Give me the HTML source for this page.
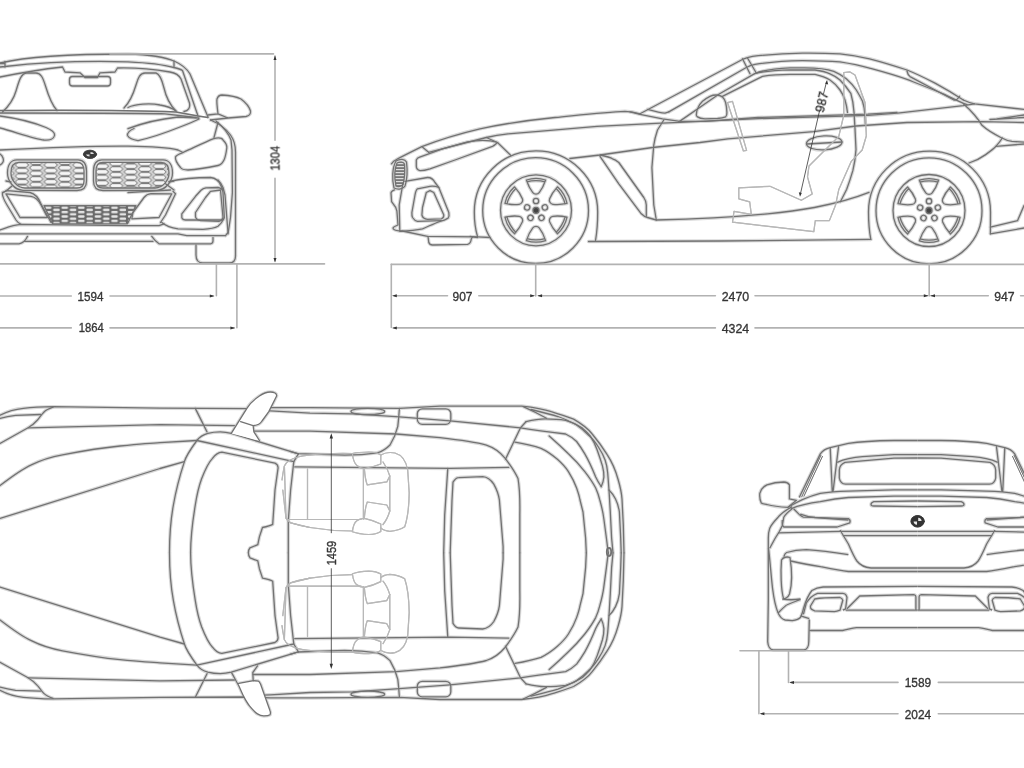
<!DOCTYPE html>
<html><head><meta charset="utf-8"><title>BMW Z4 dimensions</title>
<style>
html,body{margin:0;padding:0;background:#fff;width:1024px;height:768px;overflow:hidden;}
svg{display:block;font-family:"Liberation Sans",sans-serif;}
</style></head><body>
<svg width="1024" height="768" viewBox="0 0 1024 768">
<defs>
<pattern id="hex1" width="28.8" height="5.6" patternUnits="userSpaceOnUse" x="14.7" y="162.2">
<rect width="28.8" height="5.6" fill="#d4d4d4"/>
<g fill="#f6f6f6" stroke="#555" stroke-width="0.8">
<path d="M0.6,2.8 L2.9,0.6 L11.5,0.6 L13.8,2.8 L11.5,5 L2.9,5 Z"/>
<path d="M15,0 L17.3,-2.2 L25.9,-2.2 L28.2,0 L25.9,2.2 L17.3,2.2 Z"/>
<path d="M15,5.6 L17.3,3.4 L25.9,3.4 L28.2,5.6 L25.9,7.8 L17.3,7.8 Z"/>
</g>
</pattern>
<pattern id="hex1b" width="28.8" height="5.6" patternUnits="userSpaceOnUse" x="94.7" y="163.45">
<rect width="28.8" height="5.6" fill="#d4d4d4"/>
<g fill="#f6f6f6" stroke="#555" stroke-width="0.8">
<path d="M0.6,2.8 L2.9,0.6 L11.5,0.6 L13.8,2.8 L11.5,5 L2.9,5 Z"/>
<path d="M15,0 L17.3,-2.2 L25.9,-2.2 L28.2,0 L25.9,2.2 L17.3,2.2 Z"/>
<path d="M15,5.6 L17.3,3.4 L25.9,3.4 L28.2,5.6 L25.9,7.8 L17.3,7.8 Z"/>
</g>
</pattern>
<pattern id="hex2" width="16.6" height="4.4" patternUnits="userSpaceOnUse" x="44" y="205.6">
<rect width="16.6" height="4.4" fill="#6a6a6a"/>
<rect x="0.9" y="0.9" width="6.5" height="2.5" rx="1.1" fill="#e4e4e4"/>
<rect x="9.2" y="3.1" width="6.5" height="2.5" rx="1.1" fill="#e4e4e4"/>
<rect x="9.2" y="-1.3" width="6.5" height="2.5" rx="1.1" fill="#e4e4e4"/>
</pattern>
<pattern id="vstripe" width="4" height="3" patternUnits="userSpaceOnUse">
<rect width="4" height="3" fill="#777"/>
<rect y="1" width="4" height="1.2" fill="#ddd"/>
</pattern>
</defs>
<rect width="1024" height="768" fill="#fff"/>
<g fill="none" stroke-linejoin="round" stroke-linecap="round">
<use href="#art" stroke="#d8d8d8" stroke-width="3.5"/>
<g stroke="#727272" stroke-width="1.3"><g id="art">
<!-- FRONT VIEW -->
<g id="front">
<!-- roof -->
<path d="M0,63 C25,57 70,54 128,54 C150,54.5 166,57.5 175,61.5 C183,65 187,69 190,74 L208,117"/>
<path d="M5,66.5 C40,62.5 90,60.8 128,61.8 C150,62.8 165,65 174,67.5 C178,68.5 181,69.5 182.5,70.5 L198,116"/>
<path d="M5,61.5 L5,67 M174,61 L174,67.5 M0,63.5 L5,63.5 M0,67 L5,66.5"/>
<!-- windshield top frame -->
<path d="M0,77 C20,73 45,69 62.5,67 L65,72 L80,72.8 L85,77.5 L97.5,77.5 L100,72.8 L115,72 L117.5,68 C135,67.5 155,69.5 170,72 C176,73 179,75 181,79 L189.5,103 C190.5,108 188,111 184,111.5"/>
<!-- inner mirror -->
<rect x="69.5" y="76.5" width="41" height="9.5" rx="3"/>
<!-- headrests -->
<path d="M2.5,112 C10,105 14,98 16,91 C19,81 21,73 27,73 L36,73 C41,73 43,78 45.5,86 C48.5,96 52,105 57,110.5"/>
<path d="M124,108 C128,104 133,95 136,85 C138,78 140,73 145,73 L156,73 C160,74 162,80 164,88 C166,97 170,105 176,111"/>
<path d="M128,107.5 C135,104 150,103 160,105 C167,106 172,108 176,111"/>
<!-- beltline -->
<path d="M0,110.5 C60,110 140,110.5 176,112 L198,116 L208,117.5" stroke-width="1.4"/>
<path d="M0,113 C60,113 140,113 165,113.8 L196,117.5"/>
<!-- side mirror -->
<path d="M208,115 L218,113.8 C217,106 216.5,101 217,99 C218,96 220,95 222,95 C230,95.5 237,97 241,99 C245,102 249,106 250.5,111 C251,114 249,116 246,116.5 L228,118 L210.5,120 M218,113.8 L228,118"/>
<!-- teardrops -->
<path d="M0,116 C15,118 35,123 46,127.5 C52,130 55,133 54.5,135.5 C54,138.5 50,140.5 44,140 C35,139 15,132 0,128"/>
<path d="M128,128.7 C140,124 160,119 178,117 L199,118 M138,140.6 C134,140 129,138 127.5,135.5 C127,133 130,130 134,128.5 M138,140.6 C150,138 170,131 180,127 C188,124 195,121 199,119"/>
<!-- hood/bumper top line -->
<path d="M0,150 C40,148 100,146 128,146.2 C150,146.5 170,148 178,150 L183,152.5"/>
<!-- fender -->
<path d="M210.5,120 C220,124 227,130 230.5,135 C234,140 235.5,146 235.5,152 L235.5,256"/>
<path d="M216,121 C222,126 228,132 231,140 L232,150 L232.4,192.5 L230.5,217.5 L228,233.8"/>
<path d="M214,137.5 L218,122.5"/>
<path d="M0,154 C3,156 4,160 3,162 C2,164 0,165 0,165"/>
<!-- headlight -->
<path d="M183,152.5 C195,147 205,142 213,138.8 C218,137.5 222,138 223,140 C226,143 227,146 226.8,148 C226,154 225,158 224,160 C222.5,163 220.5,165 218,165.5 C208,167.5 195,169.5 188,170 C184,170 181.5,169 180.5,167.5 C177.5,164 175,160 175.5,157 C176,155 179,154 183,152.5"/>
<!-- BMW logo -->
<ellipse cx="90" cy="154.3" rx="6.6" ry="4.1" fill="#3a3a3a" stroke="#444" stroke-width="0.6"/>
<path d="M90.5,152 A3.6,2.3 0 0 1 94,154 L90.5,154 Z M89.5,156.6 A3.6,2.3 0 0 1 86,154.6 L89.5,154.6 Z" fill="#ddd" stroke="none"/>
<!-- kidney grilles -->
<path id="kidL" d="M17,159.8 L78,159.8 C84,159.8 86.5,164 86.5,171 L86.5,181 C86.5,187.5 83,190.5 77,190.5 L23,190.3 C14,190 7.5,181 7.5,173 C7.5,165 11,159.8 17,159.8 Z"/>
<path d="M19,162.3 L77,162.3 C82,162.3 84,165 84,171 L84,181 C84,186 81.5,188 77,188 L25,188 C17,188 11,180 11,173 C11,166 14,162.3 19,162.3 Z" fill="url(#hex1)"/>
<path d="M163,159.8 L102,159.8 C96,159.8 93.5,164 93.5,171 L93.5,181 C93.5,187.5 97,190.5 103,190.5 L157,190.3 C166,190 172.5,181 172.5,173 C172.5,165 169,159.8 163,159.8 Z"/>
<path d="M161,162.3 L103,162.3 C98,162.3 96,165 96,171 L96,181 C96,186 98.5,188 103,188 L155,188 C163,188 169,180 169,173 C169,166 166,162.3 161,162.3 Z" fill="url(#hex1b)"/>
<!-- grille bottom lines -->
<path d="M6,181 L11,182 M169,182 L174,181"/>
<path d="M12,186 C8,190 4,192 2.5,193"/>
<path d="M128,192.5 L148,191.3 L170.5,190 M165.5,183.8 L174,190"/>
<!-- left intake -->
<path d="M2.5,192.5 L7.5,190.6 L30,192.5 C36,194 39,199 41,203.8 L51,222.5 M2.5,192.5 C2,195 4,200 7,205 L16,220 C18,223 20,224 21,224.4"/>
<path d="M6,193.8 L31,196.3 C36,197 39,201 41,205 L47.5,217.5 L20,217.5 Z"/>
<!-- right intake (center-right) -->
<path d="M173,191.3 L175.5,193.8 L165.5,215 L160.5,222.5"/>
<path d="M171.8,193.8 L159,217.5 L131.8,218.8 L133,212.5 L144,197.5 C146,195 148,194 151,193.7 Z"/>
<!-- lower grille -->
<path d="M44,205.6 L136,205.6 L127.5,223.8 L52.5,223.8 Z" fill="url(#hex2)"/>
<!-- bumper middle line -->
<path d="M0,230 C6,228 12,225 21,224.4 L128,225.6 L159,225.6 L164,223.8"/>
<path d="M161.8,222.5 C166,226 172,228 178,228.8 L203,229.4 C210,229 215,228 218,226.3 C220,224.5 222,222.5 223,220"/>
<!-- right fog intake -->
<path d="M181.8,213.8 L195.5,196.3 L201,190.2 C202.5,188.8 204,188 206,187.8 L218,187.5 C221,188 223,190 223,192.5 L224.3,217.5 C224,219 223,220 221.8,220 L185.5,220 C182.5,220 181.5,218 181.8,216.3 Z"/>
<path d="M195.5,212.5 L205.5,197.5 L210.5,191.3 L220.5,190 L223,217.5 C222,220 221,221 219,221.3 L200.5,220.6 C197,220 195.5,218 195.5,216.3 Z"/>
<!-- bumper right outline -->
<path d="M169,181.3 C180,179 200,177.5 210.5,177.5 C215,178 219,181 220.5,185 L223,190"/>
<path d="M218,180 C221,183 223,187.5 223,187.5 L225,195 L226.8,217.5 L228,232.5 L225.5,235.6"/>
<!-- bumper bottom -->
<path d="M0,233.8 L178,233.8 L186.8,235.6 L225.5,235.6"/>
<path d="M0,243.8 L19,243.8 C23,243 26,240 27.5,236.3 M25,241.3 L153,241.3 M151.8,236.3 C153,238 155,241 159,243.8 L210.5,243.8 C212.5,243.5 213,242 213,241 L213,237.5"/>
<!-- tire -->
<path d="M196,245 L196,255 C196,261 199,263 203,263 L229,263 C233,263 235.5,261 235.5,256"/>
</g>

<!-- SIDE VIEW -->
<g id="side">
<path d="M391.5,163.8 C393,161.5 394.5,160.3 396,159.8 C400,157.5 403,156 406.8,154.1 L421.8,146.6 C440,139.5 460,133.5 480,128.8 C510,122.5 540,119 555,117.5 C580,115 605,112 625,111.3 C632,111.5 636,112.5 640,113.8"/>
<path d="M428.6,152.3 L486.3,137.5 C495,135.5 502,134.5 508,133.8 L538.6,131.3 L597,126.4 L655.8,123.4 L680,122.3 L758,118.6 L868,115.4 L897.6,113.2 L963.3,105.6 L974.5,103.8"/>
<path d="M705,121.3 L758,117.5 L868,114.2 L897,112.4"/>
<path d="M421.8,146.6 L428.6,152.3"/>
<path d="M416.3,160 C417,158.5 418,157.5 419,157.3 L442.5,148.8 L467.5,141.9 C480,139.5 490,140 497.5,142.5 C496,144 494.5,145.5 492.5,146.3 L455,160 L430,168.8 C426,170 423,170.8 420,170.6 C417.5,170 416.3,168 416.3,166 Z"/>
<path d="M486.3,137.5 L497.5,142.5 L510.6,155.2"/>
<path d="M477.5,236.5 C475,228 474.3,220 474.3,212 C474.3,178 501.8,150.9 536,150.9 C570,150.9 597.7,178 597.7,212 C597.7,222 597,232 595.5,240.6"/>
<circle cx="535.6" cy="210.6" r="52.9"/>
<circle cx="536" cy="210.3" r="35.5"/>
<g id="spokes" transform="translate(536,210.3)">
<path id="win" d="M-9.6,-30.3 C-8.2,-26 -5.5,-20.5 -3.2,-17.6 C-1.6,-15.6 1.6,-15.6 3.2,-17.6 C5.5,-20.5 8.2,-26 9.6,-30.3 C4,-32.1 -4,-32.1 -9.6,-30.3 Z M-8.9,-28.4 C-4,-30 4,-30 8.9,-28.4"/>
<use href="#win" transform="rotate(60)"/><use href="#win" transform="rotate(120)"/><use href="#win" transform="rotate(180)"/><use href="#win" transform="rotate(240)"/><use href="#win" transform="rotate(300)"/>
<circle r="3" fill="#444"/>
<circle id="lug" cx="0" cy="-9.3" r="2.7"/>
<use href="#lug" transform="rotate(72)"/><use href="#lug" transform="rotate(144)"/><use href="#lug" transform="rotate(216)"/><use href="#lug" transform="rotate(288)"/>
</g>
<path d="M569.9,158.5 L600,155 L652.5,147.5 L700,142.5 L728,138.8 L813.8,131.6 L856,126 L907,122.5 L982,121.6 L1024,122.5"/>
<path d="M394.5,189.8 C392.5,190.5 391,191.5 391,193 L391.6,201.6 L395.7,207.4 L396.9,211 L398,225 C396,226 393.5,226.5 393,228 C393,229.5 395,230.5 399.2,230.9 L402.5,231 L427.5,236.3 L477.5,236.9 L490,237.5"/>
<path d="M396,161 C400,158.5 405,159 406.5,162 C407.5,170 407,180 405,186 C403.5,189 398,190 394,188 C392,180 392,168 396,161 Z"/>
<path d="M397,163 C400,161.5 403.5,162 404.5,164 C405,171 404.5,179 403,184.5 C401.5,186.5 398,187 396,186 C394.5,179 394.5,169 397,163 Z" fill="url(#vstripe)"/>
<path d="M402.8,184 L399.2,205 L399.8,230.9"/>
<path d="M405,181.3 L427.5,177.5 C430.5,177.4 433,178.8 435,182.5 L438.8,187.5 L448.8,212.5 C449.3,215 449,217 448.1,218.1 C445.5,219.8 443,220.7 440,221.3 C434,223.5 428,226.5 422.5,228.8 C415,230.5 407,231 400,231.3"/>
<path d="M438.8,187.5 C436,186.3 433,186 430,186.3 L417.5,188.8 C416,190 415.5,192 415,195 L411.9,212.5 C411.8,215 412,216.5 412.5,217.5 C414,219.8 415.5,221 417.5,221.3 L441.3,220.6"/>
<path d="M426.3,192.5 L430,190.6 L433.8,192.5 L443.8,215 C443.8,217 442.5,218.5 441.3,218.8 L427.5,219.4 C424.5,219 422.5,217.5 421.9,215 L422.5,207.5 Z"/>
<path d="M428,236.3 L428.8,242.5 C429.5,244.5 431,245 432.5,245 L467.5,244.4 C469.5,244 471,242 471.3,238.8 L472.5,237"/>
<path d="M600,155 C605,156 610,157 612.5,158.8 C615,159.5 617,161 618.8,162.5 L643.8,197.5 C645.5,200 646.3,203 646.3,205 L646.3,216.3"/>
<path d="M600,156.3 L618.8,183.8 L641.3,213.8 C643,215.5 645,217 647.5,217.5 L656.3,220 C700,219 740,216.5 767.5,213.8 C790,211.5 800,210 814.4,207.5 C835,203.5 855,198 869,192.4"/>
<path d="M663.8,120 L657.5,130 C655.5,136 654.3,141 653.8,145 L651.9,167.5 L653.8,205 L656.3,220"/>
<path d="M588.5,241.5 L720,241 L870.8,239.4"/>
<path d="M470,236.4 L477.5,237.5"/>
<path d="M870.8,239.4 C869,230 868.5,220 868.5,212 C868.5,178 895.8,151.2 929.5,151.2 C963.2,151.2 990.5,178 990.5,212 C990.5,220 990.4,228 990.4,233.8"/>
<circle cx="929" cy="210.8" r="53"/>
<circle cx="929" cy="210.5" r="36"/>
<g transform="translate(929,210.5)">
<use href="#win"/><use href="#win" transform="rotate(60)"/><use href="#win" transform="rotate(120)"/><use href="#win" transform="rotate(180)"/><use href="#win" transform="rotate(240)"/><use href="#win" transform="rotate(300)"/>
<circle r="3" fill="#444"/>
<use href="#lug"/><use href="#lug" transform="rotate(72)"/><use href="#lug" transform="rotate(144)"/><use href="#lug" transform="rotate(216)"/><use href="#lug" transform="rotate(288)"/>
</g>
<path d="M990.4,227.2 L1017.6,220.6 L1024,205.6"/>
<path d="M990.4,233.8 L1024,228"/>
<path d="M969,163 C975,161 981,158 985.7,154.6 C990,151.5 993.5,149 996,146.3 C998.5,143.5 1000.5,141 1002.3,138"/>
<path d="M996,146.3 L1024,144"/>
<path d="M963.3,103.8 C967,107 971,111 974.5,115 C977.5,118.5 980,122 982,125.3 C987,130 994,134 1000.8,137.5 C1005,139.8 1009,141 1012,141.3 L1024,142.2"/>
<path d="M997,118.8 L1024,115 M990,119.5 L1024,117.5"/>
<path d="M963.3,100 C967,101.8 971,103 974.5,103.8 L1024,109.4"/>
<!-- roof and windshield -->
<path d="M640,113.8 L743.8,58.8 C746,57.8 749,57 752.5,56.3 C770,54.3 785,53.3 802.5,53.1 C815,53 828,53.2 840,53.8 C850,54.8 860,56.5 869.5,58.8 C882,62 895,66 907,70 C917,74 926,78.5 935,83.1 C945,88.5 955,94.5 963.3,100"/>
<path d="M668.8,111.9 L746.3,67.5 C749,66 752,65 755,64.4 C770,62 787,60.8 802.5,60.6 C815,60.7 828,61 840,61.9 C850,63.5 860,65.5 869.5,68.1 C882,71.5 895,75 907,79.4 C920,84.5 933,89.5 944.5,94.4 C953,98.5 960,102 967,104.7"/>
<path d="M742.5,58.8 L750,73.8 M747.5,58 L756,72.5"/>
<path d="M647.5,109.4 C655,111.5 661,113 665,113.1 L668.8,111.9"/>
<path d="M678.8,121.9 L718.8,94.3 L754.7,73.6 C765,71 778,70 790,69.8 L815,70 C821,70.8 826,72 830,73.8 C834,75.5 837.5,77.5 840,80 C844,84 847.5,88.5 850.8,93.3 C852.5,99 853.5,105 854,112 L855,128.8 L856,149.6 C855.5,157 854.5,164 852.9,170.4 C851,177 849,183 846.7,189.2 L840.4,201.7"/>
<path d="M721.9,96.6 L762.5,76.3 C772,74.8 782,74.4 790,74.4 L815,74.4 C821,75.8 826,77.5 830,80 C834.5,83 837.5,86.5 840,90 C842.5,93.5 844,97 845,100 C846.2,104 847,108 847.5,112.5"/>
<path d="M907,71 C907.5,73.5 908.5,75.5 910,76.6 L953.9,100 C956,100.5 958,99 959.5,96.3"/>
<path d="M754.7,73.6 C762,70.5 775,68.5 790,67.8 L802.5,67.8 C815,67.7 826,68.5 833.8,71.3 C839,73.5 843,76 846.3,78.8 C850.5,82.5 853.8,86 856.3,90 C859,94.5 861,98 862.5,101.3 C864,106 864.8,111 865,115 L865.4,124"/>
<path d="M630,111.9 L640,114.4 L662.5,118.8 L680,121.3 L705,121.3"/>
<path d="M696.3,115 C696.5,112 697,109.5 698.1,107.5 C699.5,104.5 701,102.8 702.5,101.3 C705,99 707.5,97.5 710,96.3 C712,95.4 714,95 716.3,95 C718.5,95 720.8,95.7 722.5,96.9 C724,98.3 725,100.3 725.6,102.5 C726.4,105.5 726.8,109 726.9,112.5 C727,114.5 726.5,116 725.6,116.9 C723,118 720,118.3 717.5,118.5 L705,118.8 C701,118.6 698.8,117.8 697.5,116.9 C696.8,116.4 696.4,115.8 696.3,115 Z"/>
<!-- door handle -->
<ellipse cx="824.2" cy="142.9" rx="17.8" ry="7" transform="rotate(-3 824.2 142.9)"/>
<path d="M807,144 L842,142"/>
<!-- rear fender/arch top lines -->
<!-- interior grey -->
<g stroke="#b8b8b8" stroke-width="1.2">
<path d="M727.5,102.5 L732.5,101.3 L746.6,150.3 L743.4,151 Z"/>
<path d="M738.8,187.8 L770,186.3 L801.3,200.3 L812.2,194 L807.5,176.9 L809,166 L826.3,148.8 L838.8,136.3 L843.8,115 L843.8,72.5 L850,71.9 L855,75 L865,102.5 L866.3,136 L862.2,150 L851.3,161.3 L838.8,189.4 L835.6,205 L829.4,220.6 L815.3,220.6 L813.8,231.6 L732.5,222.2 L734,211.3 L751.3,214.4 L749.7,201.9 L738.8,198.8 Z"/>
</g>
</g>

<!-- TOP VIEW -->
<g id="tophalf">
<path d="M0,415.3 C8,411 16,409 23.4,408.3 C35,407 45,406.8 53.1,406.7 L160,408.2 L246.9,408.6 L270.3,407.7 L310,407.7 L399.4,408.3 L440,406.1 L521.6,406.1 C535,407.5 545,409.5 551.3,411.7 C560,414.5 567,416.5 573.6,419.1 C582,424 588,428.5 592.2,434 C598,441 603,448 607,454.4 C612,462 615.5,470 618.1,479.5 C620,486 621.5,492 622,499 L623.3,525 L624,552.8"/>
<path d="M0,418.4 C5,417 10,416 15.6,415.3 L40.6,414.5"/>
<path d="M250,410 L270.3,410.8 L310,413.1 L352.5,413.8 L399.4,416.9 L450,420.8 L520.5,427.8 C535,430 550,432 565.6,434 C570,436 573.5,438.5 576.6,441.5 C580,446 582.5,450 584.8,453.8 C589,461 592.5,469 595.7,477 C597.5,481 599.5,484 601.2,486.6"/>
<path d="M53.1,407.2 C48,409 45.5,410.5 43.8,412.2 C41,415 39.5,418 37.5,420 C34,424 31,426 28.1,427.8 L0,443.4"/>
<path d="M28.1,427.8 L160,424.7 L234.4,425.6"/>
<path d="M0,485.6 C10,478 22,469 31.3,464.9 C40,460.5 50,457 62.5,454.8 C80,451.5 100,448 120,446 C140,444.2 150,443.3 160,442.7 L196.9,440.5"/>
<path d="M0,518.5 L160,468.5 L184.4,461.6"/>
<path d="M195.3,408.4 L207,431.9"/>
<path d="M196.9,440.5 C200,436.5 204,434.5 207.8,433.4 C212,432.3 216,431.9 220.3,431.9 C225,432 228,432.6 231.3,433.4 L298.4,453.8"/>
<path d="M196.9,440.5 L293.8,461.6"/>
<path d="M196.9,440.5 C190,450 186,456 184.4,461.6 C180,475 176,490 173.4,505 C171,518 169.5,530 169.5,552.8"/>
<path d="M190.6,552.8 C190.6,540 192,525 195.3,505 C197,494 199,486 201.6,478.8 C205,470 208,463 212.5,458.4 C215,455 218,452.5 221.9,452.2 L275,463.1 C277,464 278,465.5 278.1,467.8 L275,490 L272.7,524.4 C270,526 265,527 262.5,527.5 L259.4,536.9 L257.8,544.7 L250,547.8 C248.5,549.5 248.4,551 248.4,552.8"/>
<path d="M298.4,453.8 L293.8,461.6 L290.6,490 L288.3,521 L288.3,552.8"/>
<path d="M253.1,431.1 L310,431.1 L396.3,434 L440,437.7 C460,440 475,442 486.4,445.1 C495,448 500,452 505,458.1 C511,466 515,472 518,478.5 C520,490 520,505 519.8,515 L519.8,552.8"/>
<path d="M399.4,408.3 C399,415 398.5,421 397.8,426.3 C396,434 393,440 390,445 C386,449 382,451.5 377.5,452.8 C365,454.5 355,455 344.7,455.2 L297.8,453.6 L290,451.3"/>
<path d="M294.7,466.9 L450,468.4 L508.7,467.4"/>
<path d="M447.8,468.4 L444.7,515 L443.7,552.8"/>
<path d="M450.2,552.8 L452,500 L453,482.2 C455,479 457,477.6 458.6,477.6 L482.7,476.6 C488,477 491,480 493.8,484.1 C497,490 499,497 499.4,500 L503.1,546.4 L503.1,552.8"/>
<path d="M526,421.7 L520.5,427.8 L505.5,459.3"/>
<path d="M523.2,406.6 C531,410 539,414 546.5,418.2"/>
<path d="M526,421.7 C535,419.5 540,418.9 545.1,418.9 C552,419 560,419.5 565.6,420.3 C572,422 578,425 582,427.8 C585,430.5 588,433 590.2,436 C593,440 595.5,445 597.1,449.7 C599,455 601,461 602.5,466.1 C603.5,470 604,474 603.9,477 C603.5,481 602.5,484 601.2,486.6"/>
<path d="M515,442.2 C525,444 534,446 541,448.3 C547,451 552.5,455 557.4,459.3 C561.5,463 565.5,467 568.4,471.6 C571.5,476.5 574.5,482 576.6,488 C578,492 579.3,496 580,500 L583,512 L585.6,538 L586.3,552.8"/>
<path d="M549.2,436 C556,442 562,447.5 568.4,453.8 C574,459 579.5,465 584.8,471.6 C589,477 592.8,482.5 595.7,488 C597.5,492 598.8,496 599.8,500 C601.5,506 603,512 603.8,518.5 L606.4,538 L607.7,548.5 L608.4,552.8"/>
<path d="M531,409.5 C541,412 551,414.5 558,416.5 C565,419 571,422 576.6,425 C581,428 585,431.5 588.9,435.5 C592,438 595.5,442.5 598.4,447 C601,451 603.5,455.5 605.1,460 C606.5,464 607.3,468 607.7,473 L609,490 L610.3,512 L611.6,538 L613,552.8"/>
<path d="M609,490 C611.5,492.5 613.8,495.5 615.5,499 C617.5,503 618.8,507.5 619.4,512 L620.7,538 L621.2,552.8"/>
<ellipse cx="367.8" cy="411.4" rx="16.8" ry="3.1"/>
<rect x="417.3" y="408.8" width="33.5" height="15.5" rx="5"/>
<!-- seat (grey) -->
<g stroke="#b8b8b8" stroke-width="1.2">
<path d="M352.4,453.5 C335,453 310,454 298,457 C290,459 286,462 284.4,466 L286,518 C287,520.5 288.5,522 290.6,522.8 C297,525 304,526.5 310,527.5 C325,530 340,531 352,531"/>
<path d="M307.5,469 L307.5,519 M288,519.5 L361,519.5"/>
<path d="M352.4,453.5 C353,459 355,464 356.9,465.4 C359,467.5 361.5,468.4 364.3,468.4 C370,467.5 376,466 380.8,464 L380.8,455 C377,452.5 372,452 368.8,452 C362,452 357,452.3 352.4,453.5 Z"/>
<path d="M352.4,531.8 C353,526.5 355,522 356.9,520.8 C359,519 361.5,518.3 364.3,518.3 C370,519.5 376,521.5 380.8,524 L380.8,531.5 C377,534 372,534.5 368.8,534.5 C362,534.3 357,533.5 352.4,531.8 Z"/>
<path d="M380.8,455 C385,452.5 390,452 395,453 C402,455 406,460 407.7,470 L409.2,493 C409,508 407,520 404.7,526.8 C400,530 394,531 389.8,531.3 C386,531 383,530 380.8,528"/>
<path d="M364.3,468.4 C365,477 366,482 367.3,484.9 L386.8,481.9 L389.8,476 C388,470 386,466 383,462"/>
<path d="M364.3,518.3 C365,510 366,505 367.3,502 L386.8,505 L389.8,511 C388,517 386,521 383,524.5"/>
<path d="M389.8,476 L389.8,511"/>
<path d="M363.4,469 L363.4,519"/>
<path d="M282.8,490 L286,518 L290.6,522.8 L310,527.5 M282,480 C283,472 284,468 284.4,466"/>
</g>
</g>
<use href="#tophalf" transform="translate(0,1105.6) scale(1,-1)"/>
<path fill="#fff" d="M231.3,433.4 L246.9,408.4 C250,403 255,399 259.4,396 C263,393.5 267,392 270.3,392 C274,392 277,393.5 276.6,396 L268.8,411.6 L262,421 C260,424 257,425.5 253.1,425.6 L253.9,431.9 L259.4,440.5 M240.6,421.7 L253.1,425.6"/>
<path fill="#fff" d="M231.7,672.9 L238.8,685.8 L243.4,695.9 C245.5,700 247.5,703.5 249.7,706.1 C252.5,709.5 255,712.5 257.5,713.9 C259.5,715.2 261.5,715.9 263.8,715.9 C266.5,715.8 268.8,715.5 270,714.7 C270.6,713.5 270.5,712 270,710.8 L265.3,697.5 L260.6,684.2 C259.8,682.5 259,681.3 258.3,681.1 L253.6,680.7 L238.8,683.4"/>
<path d="M253.2,680.7 L252.8,672.5 L257.5,665.9"/>

<!-- trunk logo -->
<ellipse cx="609" cy="552" rx="2.2" ry="4" stroke-width="1.8"/>


<!-- REAR VIEW -->
<g id="rearhalf" stroke-linecap="butt">
<path d="M799.2,497.5 L820.3,453.9 C823,450 826,448.5 830.2,447.6 L848.4,443.4 C860,441.5 875,440.7 894,440.5 L917.5,440.5"/>
<path d="M801.6,497.2 L821,455 M803.8,496.5 L822.6,456" stroke-width="1"/>
<path d="M830.2,447.6 L832.3,491.9 M838.6,446.2 L833,491.9"/>
<path d="M917.5,458 L894,458.1 L845,462.3 C841,464 839.5,467 839.3,470 L839.3,478 C840,482 842,484 845.6,484.1 L917.5,484.1"/>
<path d="M837.2,462.3 C845,459 852,457.5 862.5,456.7 L894,454.6 L917.5,454.6"/>
<path d="M788,507.3 C798,501 808,496.5 820.3,493.3 C830,492 840,491.5 848.4,491.2 L894,489.8 L917.5,489.8"/>
<path d="M790.8,508.8 C800,505 810,503 820.3,501.7 C830,499.5 840,498 848.4,497.5 L894,496.1 L917.5,496.1"/>
<path d="M917.5,501 L873.8,501.7 C871.5,502.5 871,503.5 871,504.5 C871,505.5 872,506 873.8,506 L917.5,506.6"/>
<path d="M761.3,503.1 C759.5,499 759.5,496 759.8,493.3 C761,489 763.5,486.5 766.9,484.8 C772,483 778,482 783.8,482 C786.5,482.2 788.5,483.3 789.4,484.8 L789.4,498.9 L796.4,500.3 L788,507.3 C780,507 772,506 766.9,504.5 C764,504 762,503.7 761.3,503.1 Z"/>
<path d="M792.2,506.6 C786,510 781,513.5 778.1,517.2 C774,521.5 771,525 769.7,528.4 C768.5,532 768.3,535 768.3,538 L768.3,600 L767.7,641.6 C768,646 770,649.9 773.3,649.9 L803.8,649.9 C807,649.9 808.8,646 808.8,641.6 L809.3,619.4"/>
<path d="M792.2,508.8 C788,512 785,515 783.8,517.2 L782.3,525.6 L779.5,531.3 L775.3,538 L769.7,548.3"/>
<path d="M800.2,514.1 C805,516 810,517 815,517.5 L848.4,520"/>
<path d="M793.6,508.8 L799.2,514.4 C801,516 802,517 803.4,517.2 L848.4,518.6 C850,519.5 850.5,521 849.8,522.8 L837.2,527 L783.8,527 C782.5,526 782,523 782.3,520"/>
<path d="M778.1,532.8 L840,531.4 L917.5,531.4 M842.8,535.6 L917.5,535.6"/>
<path d="M840,530 C843,535 846,540 848.4,544 C851,550 854,557 856.9,561 C860,565 865,567.5 871,568 L917.5,568"/>
<path d="M790.8,561 C800,563 810,565 820.3,566.6 C830,568.5 840,570.5 848.4,571.5 L917.5,571.5"/>
<path d="M783.8,556.7 C784.5,554.5 785.5,553 786.6,552.5 C793,550.5 800,549.7 806.3,549.7 C820,550.5 835,552.5 848.4,554.6"/>
<path d="M781.5,560 C783,557 787,556.5 790,557.5 C792,570 792,585 789.5,594 C788,597.5 785,599 783.5,598.5 C781,590 780.5,572 781.5,560 Z"/>
<path d="M782.3,599 C788,600 794,600 800.6,599 M800.6,599.5 C795,601.5 790,603.5 786.6,605"/>
<path d="M778.1,613 C780,617 782.5,619.5 785.2,620 L792.2,620.7 C796,620 799,619 800.6,617.2 C802,614 803,611 803.4,608.8 C806,600 809,594 811.9,590.5 C815,588.5 819,587.3 823.1,587 L917.5,586.3"/>
<path d="M778.1,613 C781,610 784,607 786.6,605"/>
<path d="M803.4,614.4 L806.3,603 C809,598.5 813,595 817.5,593.3 L842.8,593.3 C845,593.5 846.5,595 847,597.5 L845.6,608.8 L842.8,610.2"/>
<path d="M810.5,606 L814.7,599 C820,598 830,597.5 840,597.5 C841.5,598 842.5,599 842.8,600.3 L840,610.2 C838,611 836,611.5 834.4,611.6 L814.7,610.9 C812,610 810.5,608.5 810.5,607.3 Z"/>
<path d="M845.6,610.2 L917.5,610.2 M847,608.8 L859.7,596 L913.8,594.7 C915,595 915.9,595.8 915.9,596.8 L915.9,610.2"/>
<path d="M800.6,615.8 L809.3,618.6"/>
<path d="M768.5,548 C770,560 771,575 772.5,588 C774,600 776,608 778.1,613"/>
<path d="M809.3,630.5 L842.6,630.5 C848,629.5 852,628 856.5,627.7 L917.5,627.7"/>
</g>
<use href="#rearhalf" transform="translate(1835,0) scale(-1,1)"/>
<ellipse cx="917.6" cy="521.3" rx="6.6" ry="5.7" fill="#333" stroke="#3a3a3a" stroke-width="0.8"/>
<path d="M918.2,517.8 A3.8,3.4 0 0 1 921.6,521 L918.2,521 Z M917,524.8 A3.8,3.4 0 0 1 913.6,521.6 L917,521.6 Z" fill="#e8e8e8" stroke="none"/>

</g></g>
<!-- DIMENSION LINES -->
<g stroke="#b2b2b2" stroke-width="1.6" fill="none">
<!-- front -->
<path d="M110,53.9 L273.5,53.9 M275,56 L275,140.2 M275,178.4 L275,261"/>
<path d="M0,263.9 L324.5,263.9"/>
<path d="M216.4,263.9 L216.4,295.8 M0,296 L71.3,296 M110,296 L213,296"/>
<path d="M236.9,263.9 L236.9,327.7 M0,327.9 L71.3,327.9 M110,327.9 L234,327.9"/>
<!-- side -->
<path d="M391.3,264.4 L1024,264.4"/>
<path d="M391.3,264.4 L391.3,327.5"/>
<path d="M394,295.8 L447.5,295.8 M478.8,295.8 L533.5,295.8 M538.5,295.8 L715.4,295.8 M755,295.8 L927.5,295.8 M931,295.8 L988.3,295.8 M1020.6,295.8 L1024,295.8"/>
<path d="M535.7,264.4 L535.7,296 M929.2,264.4 L929.2,296"/>
<path d="M394,327.9 L715.4,327.9 M755,327.9 L1024,327.9"/>
<!-- rear -->
<path d="M740,650.8 L1024,650.8"/>
<path d="M758.9,650.8 L758.9,713.7 M788.5,650.8 L788.5,682.4"/>
<path d="M791,682.4 L898,682.4 M938.3,682.4 L1024,682.4"/>
<path d="M761.5,713.7 L898,713.7 M938.3,713.7 L1024,713.7"/>
</g>
<g fill="#333" stroke="none">
<path d="M275,55.5 L276.5,60 L273.5,60 Z M275,262.6 L276.5,258 L273.5,258 Z"/>
<path d="M214.6,296 L209.8,294.5 L209.8,297.5 Z M235.2,327.9 L230.4,326.4 L230.4,329.4 Z"/>
<path d="M392,295.8 L396.8,294.3 L396.8,297.3 Z M535,295.8 L530.2,294.3 L530.2,297.3 Z M537.3,295.8 L542.1,294.3 L542.1,297.3 Z M928.6,295.8 L923.8,294.3 L923.8,297.3 Z M930.2,295.8 L935,294.3 L935,297.3 Z"/>
<path d="M392,327.9 L396.8,326.4 L396.8,329.4 Z"/>
<path d="M789.2,682.4 L794,680.9 L794,683.9 Z M759.6,713.7 L764.4,712.2 L764.4,715.2 Z"/>
</g>
<g fill="#333" stroke="#333" stroke-width="0.35" font-size="13.2" text-anchor="middle" opacity="0.99">
<text x="90.6" y="300.7" textLength="26" lengthAdjust="spacingAndGlyphs">1594</text>
<text x="91.2" y="332.2" textLength="25" lengthAdjust="spacingAndGlyphs">1864</text>
<text transform="translate(279.5,158.3) rotate(-90)" textLength="24.6" lengthAdjust="spacingAndGlyphs">1304</text>
<text x="462.5" y="300.6" textLength="20" lengthAdjust="spacingAndGlyphs">907</text>
<text x="735.5" y="300.6" textLength="27.5" lengthAdjust="spacingAndGlyphs">2470</text>
<text x="735.5" y="332.5" textLength="27.5" lengthAdjust="spacingAndGlyphs">4324</text>
<text x="1004.4" y="300.8" textLength="20.5" lengthAdjust="spacingAndGlyphs">947</text>
<text x="918" y="687.2" textLength="26.5" lengthAdjust="spacingAndGlyphs">1589</text>
<text x="918" y="718.5" textLength="26.5" lengthAdjust="spacingAndGlyphs">2024</text>
</g>

<!-- 987 dim -->
<path d="M826.5,82 L823.5,94 M819.5,111 L800.5,193.5" stroke="#333" stroke-width="0.8"/>
<path d="M827,80 L828.2,84.5 L825.2,83.8 Z M800,196.7 L798.8,192.2 L801.8,192.9 Z" fill="#333" stroke="none"/>
<g opacity="0.99"><rect x="0" y="0" width="1" height="1" fill="none" stroke="none"/><text x="0" y="0" transform="translate(826,103) rotate(-77)" font-size="13" text-anchor="middle" textLength="21" lengthAdjust="spacingAndGlyphs" fill="#333" stroke="#333" stroke-width="0.35">987</text></g>
<!-- 1459 dim -->
<path d="M331.3,436 L331.3,532.8 M331.3,568.7 L331.3,666.5" stroke="#333" stroke-width="0.8"/>
<path d="M331.3,433.3 L333,438.5 L329.6,438.5 Z M331.3,669 L333,663.8 L329.6,663.8 Z" fill="#333" stroke="none"/>
<g opacity="0.99"><rect x="0" y="0" width="1" height="1" fill="none" stroke="none"/><text transform="translate(336,553) rotate(-90)" font-size="13" text-anchor="middle" textLength="24.5" lengthAdjust="spacingAndGlyphs" fill="#333" stroke="#333" stroke-width="0.35">1459</text></g>

</g>
</svg>
</body></html>
